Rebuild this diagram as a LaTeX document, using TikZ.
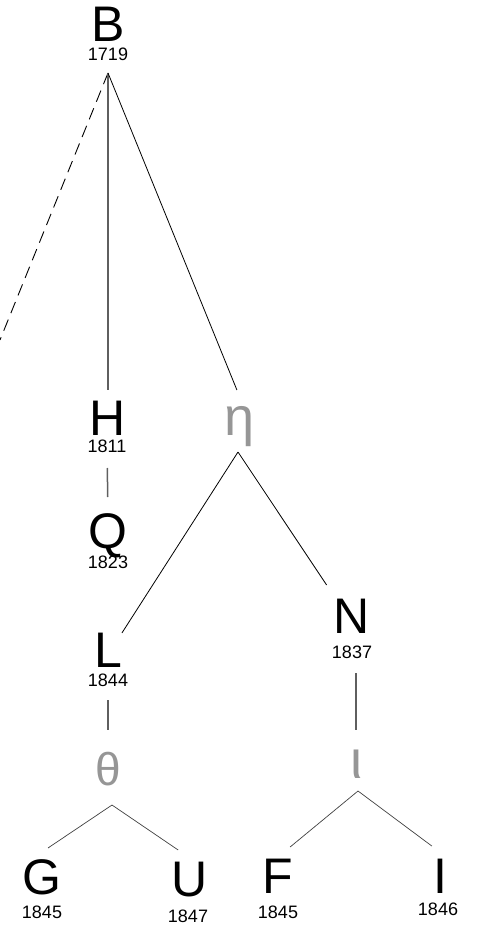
\documentclass[tikz,border=0pt]{standalone}
\usepackage{fontspec}
\setmainfont{Liberation Sans}
\definecolor{greekgray}{RGB}{150,150,150}
\definecolor{vgray}{RGB}{95,95,95}
\begin{document}
\begin{tikzpicture}[x=1pt,y=-1pt,
  letter/.style={inner sep=0pt, outer sep=0pt, text height=36pt, text depth=0pt, anchor=base, font=\fontsize{50}{50}\selectfont},
  year/.style={inner sep=0pt, outer sep=0pt, text height=13pt, text depth=0pt, anchor=base, font=\fontsize{18}{18}\selectfont},
  greek/.style={inner sep=0pt, outer sep=0pt, anchor=base, text=greekgray},
  conn/.style={draw=black, line width=0.8pt},
  vconn/.style={draw=vgray, line width=1.5pt},
  lconn/.style={draw=black!75, line width=0.7pt},
  dconn/.style={draw=black, line width=0.9pt, dash pattern=on 12pt off 7pt},
]
\useasboundingbox (0,0) rectangle (486,925);

% letters
\node[letter] (B) at (108,42) {B};
\node[year] (By) at (108,61) {1719};
\node[letter] (H) at (108,435) {H};
\node[year] (Hy) at (107,452) {1811};
\node[letter] (Q) at (108,548) {Q};
\node[year] (Qy) at (108,568) {1823};
\node[greek, text height=28pt, text depth=8pt, font=\fontsize{54}{54}\selectfont] (eta) at (240,435) {η};
\node[letter] (L) at (108,667) {L};
\node[year] (Ly) at (108,686) {1844};
\node[letter] (N) at (352,633) {N};
\node[year] (Ny) at (352,658) {1837};
\node[greek, text height=33pt, text depth=0pt, font=\fontsize{46}{46}\selectfont] (theta) at (108,785) {θ};
\node[greek, text height=28pt, text depth=0pt, font=\fontsize{54}{54}\selectfont] (iota) at (356,778) {ι};
\node[letter] (G) at (41.5,894) {G};
\node[year] (Gy) at (42,918) {1845};
\node[letter] (U) at (190,896) {U};
\node[year] (Uy) at (188,922) {1847};
\node[letter] (F) at (278,893) {F};
\node[year] (Fy) at (278,918) {1845};
\node[letter] (I) at (440,893) {I};
\node[year] (Iy) at (438,915) {1846};

% junctions
\coordinate (Bj) at (108,73);
\coordinate (etaj) at (238,452);
\coordinate (thetaj) at (112,805);
\coordinate (iotaj) at (358,791);
\coordinate (dashend) at (0,340);

% connectors
\draw[dconn] (Bj) -- (dashend);
\draw[vconn, shorten >=9pt] (Bj) -- (H.north);
\draw[conn, shorten >=18.4pt] (Bj) -- (eta.78);
\draw[vconn, shorten <=16pt, shorten >=15pt] (Hy.south) -- (Q.north);
\draw[conn] (etaj) -- (L.49);
\draw[conn, shorten >=14.4pt] (etaj) -- (N.134);
\draw[vconn, shorten <=14pt, shorten >=22pt] (Ly.south) -- (theta.north);
\draw[vconn, shorten <=15pt, shorten >=20pt] (iota.north |- Ny.south) -- (iota.north);
\draw[lconn, shorten >=18pt] (thetaj) -- (G.115);
\draw[lconn, shorten >=17.8pt] (thetaj) -- (U.81);
\draw[lconn, shorten >=15.7pt] (iotaj) -- (F.north);
\draw[lconn, shorten >=18.4pt] (iotaj) -- (I.70);
\end{tikzpicture}
\end{document}
